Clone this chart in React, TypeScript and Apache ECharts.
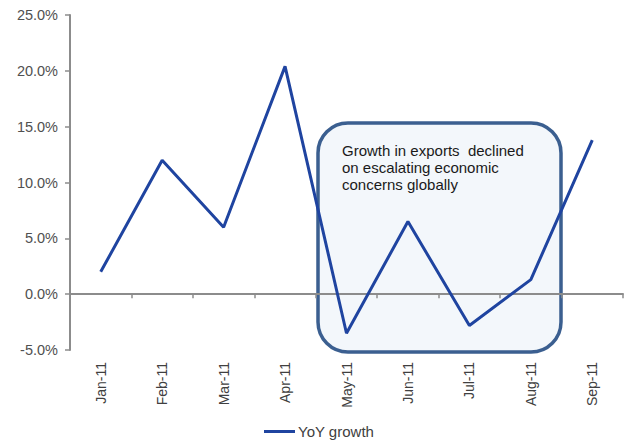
import React, { useEffect, useRef } from "react";
import * as echarts from "echarts";

const categories = ["Jan-11", "Feb-11", "Mar-11", "Apr-11", "May-11", "Jun-11", "Jul-11", "Aug-11", "Sep-11"];
const yoyGrowth = [2.0, 12.0, 6.0, 20.4, -3.5, 6.5, -2.8, 1.3, 13.8];
const seriesName = "YoY growth";
const noteLines = ["Growth in exports  declined", "on escalating economic", "concerns globally"];

export default function App() {
  const ref = useRef<HTMLDivElement>(null);
  useEffect(() => {
    if (!ref.current) return;
    const chart = echarts.init(ref.current, null, { renderer: "svg" });
    const font = "Liberation Sans, Arial, sans-serif";
    chart.setOption({
      animation: false,
      grid: {
        left: 70,
        right: 6,
        top: 15,
        bottom: 91,
        containLabel: false,
        outerBoundsMode: "none",
      },
      xAxis: {
        type: "category",
        data: categories,
        boundaryGap: true,
        axisLine: { onZero: true, lineStyle: { color: "#8c8c8c", width: 2 } },
        axisTick: { show: true, length: 4, interval: 0, lineStyle: { color: "#8c8c8c", width: 1.5 } },
        axisLabel: {
          rotate: 90,
          margin: 12,
          interval: 0,
          color: "#404040",
          fontSize: 14,
          fontFamily: font,
        },
        splitLine: { show: false },
      },
      yAxis: {
        type: "value",
        min: -5,
        max: 25,
        interval: 5,
        axisLine: { show: true, lineStyle: { color: "#8c8c8c", width: 2 } },
        axisTick: { show: true, length: 5, lineStyle: { color: "#8c8c8c", width: 1.5 } },
        axisLabel: {
          formatter: (v: number) => v.toFixed(1) + "%",
          color: "#505050",
          fontSize: 14.5,
          fontFamily: font,
          margin: 12,
        },
        splitLine: { show: false },
      },
      legend: {
        show: true,
        top: 424,
        left: 264,
        itemWidth: 31,
        itemHeight: 3,
        itemGap: 4,
        padding: [0, 0, 0, 0],
        textStyle: { color: "#404040", fontSize: 15, fontFamily: font, padding: [0, 0, 0, -2] },
        data: [{ name: seriesName, icon: "rect" }],
      },
      graphic: [
        {
          type: "rect",
          z: 0,
          shape: { x: 318, y: 123, width: 243, height: 229, r: 30 },
          style: { fill: "rgba(225,235,246,0.4)", stroke: "#3b5f90", lineWidth: 3.5 },
        },
        {
          type: "text",
          z: 5,
          x: 342,
          y: 142,
          style: {
            text: noteLines.join("\n"),
            fill: "#1a1a1a",
            fontSize: 15,
            lineHeight: 17,
            fontFamily: font,
          },
        },
      ],
      series: [
        {
          name: seriesName,
          type: "line",
          data: yoyGrowth,
          symbol: "none",
          z: 10,
          lineStyle: { color: "#1f44a0", width: 3 },
          itemStyle: { color: "#1f44a0" },
        },
      ],
    });
    return () => chart.dispose();
  }, []);
  return <div ref={ref} style={{ width: 629, height: 441, position: "absolute", left: 0, top: 0 }} />;
}
